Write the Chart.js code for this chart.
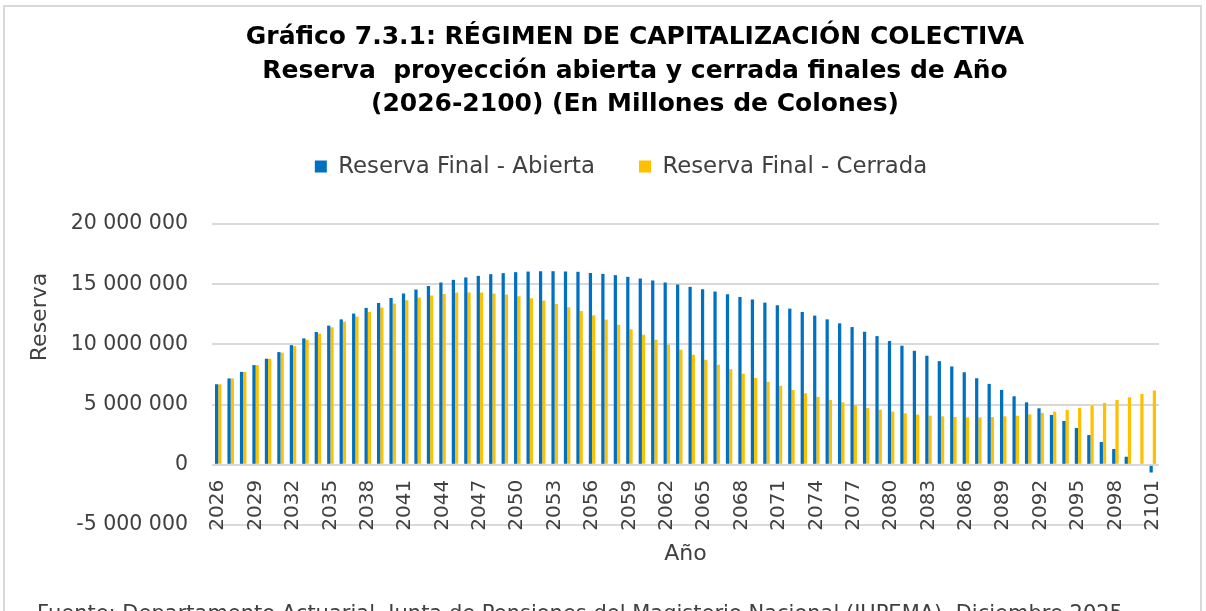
<!DOCTYPE html>
<html>
<head>
<meta charset="utf-8">
<script src="https://cdn.jsdelivr.net/npm/chart.js@4.4.1/dist/chart.umd.min.js"></script>
<style>
  html, body { margin: 0; padding: 0; overflow: hidden; background: #ffffff; width: 1206px; height: 611px; }
  #frame { position: absolute; left: 3px; top: 5px; width: 1199px; height: 700px; box-sizing: border-box; border: 2px solid #d9d9d9; }
  #c { position: absolute; left: 0; top: 0; }
</style>
</head>
<body>
<div id="frame"></div>
<canvas id="c" width="1206" height="640"></canvas>
<script>
// ---------------- DATA ----------------
const years = ['2026','2027','2028','2029','2030','2031','2032','2033','2034','2035',
  '2036','2037','2038','2039','2040','2041','2042','2043','2044','2045',
  '2046','2047','2048','2049','2050','2051','2052','2053','2054','2055',
  '2056','2057','2058','2059','2060','2061','2062','2063','2064','2065',
  '2066','2067','2068','2069','2070','2071','2072','2073','2074','2075',
  '2076','2077','2078','2079','2080','2081','2082','2083','2084','2085',
  '2086','2087','2088','2089','2090','2091','2092','2093','2094','2095',
  '2096','2097','2098','2099','2100','2101'];

const xTickLabels = ['2026','2029','2032','2035','2038','2041','2044','2047','2050','2053',
  '2056','2059','2062','2065','2068','2071','2074','2077','2080','2083',
  '2086','2089','2092','2095','2098','2101'];

const reservaAbierta = [6690000,7170000,7720000,8280000,8810000,9360000,9940000,10500000,11030000,11560000,
  12080000,12560000,13030000,13440000,13860000,14220000,14560000,14860000,15140000,15360000,
  15560000,15690000,15830000,15920000,16000000,16050000,16080000,16080000,16060000,16030000,
  15940000,15860000,15750000,15610000,15470000,15310000,15140000,14970000,14780000,14580000,
  14390000,14170000,13940000,13720000,13470000,13250000,12970000,12690000,12390000,12080000,
  11750000,11440000,11060000,10690000,10280000,9890000,9470000,9060000,8610000,8170000,
  7690000,7190000,6720000,6220000,5690000,5190000,4690000,4140000,3640000,3060000,
  2470000,1890000,1310000,670000,0,-640000];

const reservaCerrada = [6690000,7170000,7720000,8280000,8810000,9310000,9860000,10390000,10890000,11420000,
  11890000,12310000,12690000,13060000,13390000,13670000,13890000,14060000,14190000,14310000,
  14310000,14310000,14220000,14140000,14000000,13830000,13640000,13360000,13080000,12780000,
  12420000,12060000,11640000,11250000,10810000,10390000,9970000,9560000,9140000,8720000,
  8310000,7940000,7560000,7220000,6890000,6560000,6220000,5940000,5640000,5390000,
  5190000,4940000,4720000,4580000,4420000,4280000,4170000,4080000,4030000,3970000,
  3940000,3940000,3970000,4030000,4080000,4190000,4310000,4420000,4560000,4720000,
  4920000,5140000,5390000,5610000,5890000,6170000];

const seriesLabels = ['Reserva Final - Abierta', 'Reserva Final - Cerrada'];
const yTicks = { min: -5000000, max: 20000000, step: 5000000 };

const titleLines = [
  'Gráfico 7.3.1: RÉGIMEN DE CAPITALIZACIÓN COLECTIVA',
  'Reserva  proyección abierta y cerrada finales de Año',
  '(2026-2100) (En Millones de Colones)'
];
const sourceText = 'Fuente: Departamento Actuarial, Junta de Pensiones del Magisterio Nacional (JUPEMA), Diciembre 2025.';
const yTitle = 'Reserva';
const xTitle = 'Año';

// ---------------- STYLE ----------------
const BLUE = '#0070C0';
const YELLOW = '#FFC000';
const TEXT = '#404040';
const GRID = '#d9d9d9';

Chart.defaults.font.family = "'DejaVu Sans', sans-serif";
Chart.defaults.color = TEXT;

function fmt(v) {
  const s = Math.abs(v).toString().replace(/\B(?=(\d{3})+(?!\d))/g, ' ');
  return (v < 0 ? '-' : '') + s;
}

// fine placement of title / legend / source line / y title (manual placement as in the original)
const placement = {
  id: 'placement',
  afterLayout(chart) {
    const T = chart.titleBlock;
    if (T) { const dx = 635 - (T.left + T.right) / 2; T.left += dx; T.right += dx; }
    const L = chart.legend;
    if (L) {
      const dx = 621 - (L.left + L.right) / 2; L.left += dx; L.right += dx;
      L.top -= 36; L.bottom -= 36;
    }
    chart.boxes.forEach(b => {
      if (b !== L && b !== T && !b.axis && b.position === 'bottom') { b.left += 17; b.right += 17; }
    });
    const ys = chart.scales.y;
    if (ys && !ys._titleWrapped) {
      const orig = ys.drawTitle;
      ys.drawTitle = function () {
        const t = this.top, bt = this.bottom;
        const shift = 317 - (t + bt) / 2;
        this.top = t + shift; this.bottom = bt + shift;
        orig.call(this);
        this.top = t; this.bottom = bt;
      };
      ys._titleWrapped = true;
    }
  }
};

new Chart(document.getElementById('c'), {
  type: 'bar',
  data: {
    labels: years,
    datasets: [
      { label: seriesLabels[0], data: reservaAbierta, backgroundColor: BLUE, borderWidth: 0, categoryPercentage: 0.52, barPercentage: 1.0 },
      { label: seriesLabels[1], data: reservaCerrada, backgroundColor: YELLOW, borderWidth: 0, categoryPercentage: 0.52, barPercentage: 1.0 }
    ]
  },
  options: {
    responsive: false,
    animation: false,
    devicePixelRatio: 1,
    layout: { padding: { left: 20, right: 47, top: 0, bottom: 0 } },
    plugins: {
      title: {
        display: true, text: titleLines, color: '#000000',
        font: { size: 25, weight: 'bold', lineHeight: 1.34 },
        padding: { top: 21, bottom: 25.7 }
      },
      subtitle: {
        display: true, position: 'bottom', align: 'start', text: sourceText, color: TEXT,
        font: { size: 21, weight: 'normal', lineHeight: 1.2 },
        padding: { top: 77, bottom: 12.8 }
      },
      legend: {
        position: 'top',
        labels: { boxWidth: 12, boxHeight: 12, padding: 44, color: TEXT, font: { size: 22.8 } }
      },
      tooltip: { enabled: false }
    },
    scales: {
      x: {
        position: { y: 0 },
        grid: { display: false, drawTicks: false },
        border: { display: false },
        ticks: {
          autoSkip: false, maxRotation: 90, minRotation: 90, padding: 15,
          color: TEXT, font: { size: 20 },
          callback: function (v) { const lab = this.getLabelForValue(v); return xTickLabels.includes(lab) ? lab : ''; }
        },
        title: { display: true, text: xTitle, color: TEXT, font: { size: 22 }, padding: { top: -5, bottom: 0 } }
      },
      y: {
        min: yTicks.min, max: yTicks.max,
        ticks: { stepSize: yTicks.step, padding: 24, color: TEXT, font: { size: 20.5 }, callback: fmt },
        grid: { color: GRID, lineWidth: 2, drawTicks: false },
        border: { display: false },
        title: { display: true, text: yTitle, color: TEXT, font: { size: 22 }, padding: { top: 7, bottom: 0 } },
        afterFit(scale) { scale.width = 192; }
      }
    }
  },
  plugins: [placement]
});
</script>
</body>
</html>
